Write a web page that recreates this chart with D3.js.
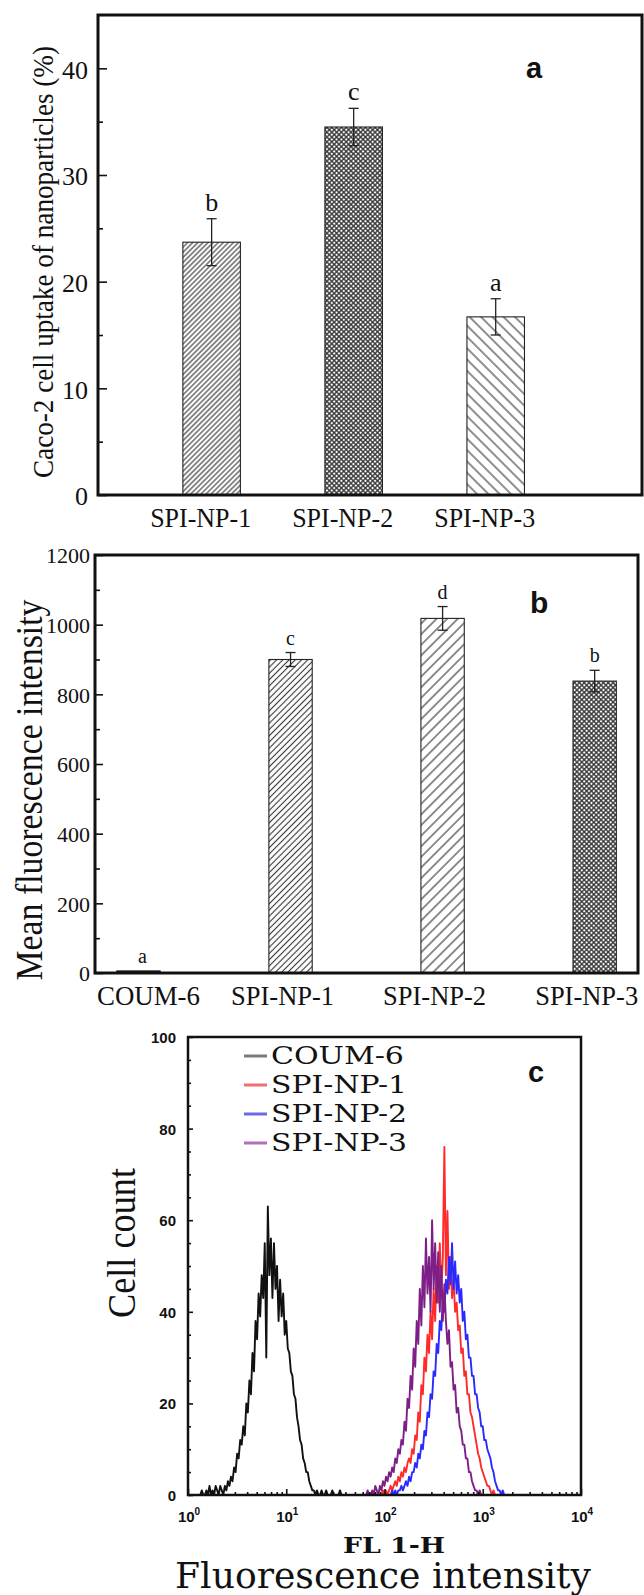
<!DOCTYPE html>
<html><head><meta charset="utf-8">
<script src="https://cdn.jsdelivr.net/npm/d3@7/dist/d3.min.js"></script>
<style>body{margin:0;background:#fff}svg{display:block}</style>
</head><body>
<svg id="chart" width="644" height="1595"></svg>
<script>
// ---------- Panel a data ----------
const catsA = ["SPI-NP-1", "SPI-NP-2", "SPI-NP-3"];
const valsA = [23.7, 34.5, 16.7];
const errA = [2.2, 1.75, 1.7];
const sigA = ["b", "c", "a"];
const ticksA = [0, 10, 20, 30, 40];
const minorA = [5, 15, 25, 35];

// ---------- Panel b data ----------
const catsB = ["COUM-6", "SPI-NP-1", "SPI-NP-2", "SPI-NP-3"];
const valsB = [6, 900, 1018, 838];
const errB = [0, 20, 34, 31];
const sigB = ["a", "c", "d", "b"];
const ticksB = [0, 200, 400, 600, 800, 1000, 1200];
const minorB = [100, 300, 500, 700, 900, 1100];

// ---------- Panel c data (flow cytometry histograms, 64 channels / decade) ----------
const seriesC = ["COUM-6", "SPI-NP-1", "SPI-NP-2", "SPI-NP-3"];
const startChC = [8, 126, 132, 116];
const countsCOUM = [0,1,0,0,1,0,2,0,1,0,2,1,0,2,1,0,2,1,3,2,4,3,6,5,9,8,12,11,15,13,20,18,25,22,31,27,38,34,44,39,48,43,55,30,63,48,56,43,55,45,50,38,47,39,44,35,38,32,31,27,26,22,21,17,15,12,11,8,7,5,5,3,2,1,1,0,1,0,0,1,0,0,1,0,0,0,1,0,0,0,0,1,0,0,0,0,0];
const countsNP1 = [0,1,0,1,0,1,2,1,2,3,2,4,3,5,4,6,5,7,8,7,10,9,13,12,18,16,24,22,30,27,35,31,40,34,45,38,50,42,55,44,52,76,48,62,45,52,43,47,40,42,36,37,31,32,26,27,22,22,18,17,15,13,11,9,8,6,5,4,3,2,2,1,0,1,0];
const countsNP2 = [0,1,0,1,0,1,1,2,1,2,3,2,4,3,5,5,7,6,9,8,11,10,14,13,18,17,22,21,27,26,33,31,38,36,43,40,47,44,52,46,55,45,51,44,48,42,45,38,40,34,35,30,30,26,26,22,22,19,18,15,15,12,12,10,9,8,6,5,3,2,1,1,0,1,0];
const countsNP3 = [0,1,0,0,1,0,2,1,0,2,1,3,2,4,3,5,4,6,5,8,7,10,9,12,11,16,14,21,19,26,23,32,28,38,33,45,37,50,41,56,44,52,40,60,45,55,42,53,40,50,38,46,38,33,36,28,29,23,24,18,19,15,14,11,11,8,8,5,5,3,2,1,1,0,1,0,0];
const countsC = [countsCOUM, countsNP1, countsNP2, countsNP3];
const ticksCy = [0, 20, 40, 60, 80, 100];
const decadesC = [1, 10, 100, 1000, 10000];

// ---------- styles ----------
const colorsC = ["#111111", "#ff2a2a", "#2a2aff", "#7d1f86"];
const legendColorsC = ["#7a7a7a", "#ef6f6f", "#6a6ae6", "#b26fb8"];
const serif = "'Liberation Serif','Times New Roman',serif";
const sans = "'Liberation Sans',Arial,sans-serif";
const wide = "'DejaVu Serif',serif";

const svg = d3.select("#chart");
const defs = svg.append("defs");
function hatch(id, sp, angle, sw, color) {
  const p = defs.append("pattern").attr("id", id).attr("patternUnits", "userSpaceOnUse")
    .attr("width", sp).attr("height", sp).attr("patternTransform", `rotate(${angle})`);
  p.append("rect").attr("width", sp).attr("height", sp).attr("fill", "#fff");
  p.append("line").attr("x1", sp / 2).attr("x2", sp / 2).attr("y1", -1).attr("y2", sp + 1)
    .attr("stroke", color).attr("stroke-width", sw);
}
function cross(id, sp, sw, color) {
  const p = defs.append("pattern").attr("id", id).attr("patternUnits", "userSpaceOnUse")
    .attr("width", sp).attr("height", sp).attr("patternTransform", "rotate(45)");
  p.append("rect").attr("width", sp).attr("height", sp).attr("fill", "#fff");
  p.append("line").attr("x1", sp / 2).attr("x2", sp / 2).attr("y1", -1).attr("y2", sp + 1)
    .attr("stroke", color).attr("stroke-width", sw);
  p.append("line").attr("y1", sp / 2).attr("y2", sp / 2).attr("x1", -1).attr("x2", sp + 1)
    .attr("stroke", color).attr("stroke-width", sw);
}
hatch("hA1", 3.6, 45, 1.1, "#333");
cross("cross", 3.4, 1.35, "#333");
hatch("hA3", 8, -45, 1.1, "#333");
hatch("hB1", 4.4, 45, 1.1, "#333");
hatch("hB2", 7.5, 45, 1.1, "#333");
const fillsA = ["url(#hA1)", "url(#cross)", "url(#hA3)"];
const fillsB = ["#111", "url(#hB1)", "url(#hB2)", "url(#cross)"];

function styleAxis(g, font, size, weight) {
  g.select(".domain").remove();
  g.selectAll("text").attr("font-family", font).attr("font-size", size)
    .attr("font-weight", weight || "normal").attr("fill", "#111");
  g.selectAll("line").attr("stroke", "#111").attr("stroke-width", 1.6);
}
function fitText(sel, len) {
  sel.attr("textLength", len).attr("lengthAdjust", "spacingAndGlyphs");
}

// ================= Panel a =================
(function () {
  const L = 98, R = 642, T = 15, B = 495;
  const x = d3.scaleLinear().domain([0.2, 4.03]).range([L, R]);
  const y = d3.scaleLinear().domain([0, 45]).range([B, T]);
  const bw = x(1.405) - x(1);
  const g = svg.append("g");
  const data = catsA.map((c, i) => ({ c, i, v: valsA[i], e: errA[i], s: sigA[i] }));
  g.selectAll("rect.bar").data(data).join("rect").attr("class", "bar")
    .attr("x", d => x(d.i + 1) - bw / 2).attr("width", bw)
    .attr("y", d => y(d.v)).attr("height", d => y(0) - y(d.v))
    .attr("fill", d => fillsA[d.i]).attr("stroke", "#222").attr("stroke-width", 1.1);
  const eb = g.selectAll("g.err").data(data).join("g").attr("class", "err")
    .attr("stroke", "#222").attr("stroke-width", 1.3);
  eb.append("line").attr("x1", d => x(d.i + 1)).attr("x2", d => x(d.i + 1))
    .attr("y1", d => y(d.v + d.e)).attr("y2", d => y(d.v - d.e));
  eb.append("line").attr("x1", d => x(d.i + 1) - 5).attr("x2", d => x(d.i + 1) + 5)
    .attr("y1", d => y(d.v + d.e)).attr("y2", d => y(d.v + d.e));
  eb.append("line").attr("x1", d => x(d.i + 1) - 5).attr("x2", d => x(d.i + 1) + 5)
    .attr("y1", d => y(d.v - d.e)).attr("y2", d => y(d.v - d.e));
  g.selectAll("text.sig").data(data).join("text").attr("class", "sig")
    .attr("x", d => x(d.i + 1)).attr("y", d => y(d.v + d.e) - 8)
    .attr("text-anchor", "middle").attr("font-family", serif).attr("font-size", 26)
    .attr("fill", "#111").text(d => d.s);
  const ay = g.append("g").attr("transform", `translate(${L},0)`)
    .call(d3.axisLeft(y).tickValues(ticksA).tickSize(-9).tickPadding(10));
  styleAxis(ay, serif, 26);
  ay.selectAll("text").attr("dy", "0.38em");
  const aym = g.append("g").attr("transform", `translate(${L},0)`)
    .call(d3.axisLeft(y).tickValues(minorA).tickSize(-5).tickFormat(""));
  styleAxis(aym);
  g.append("rect").attr("x", L).attr("y", T).attr("width", R - L).attr("height", B - T)
    .attr("fill", "none").attr("stroke", "#111").attr("stroke-width", 3);
  const cat = g.selectAll("text.cat").data(data).join("text").attr("class", "cat")
    .attr("x", d => x(d.i + 1) - 11).attr("y", 527).attr("text-anchor", "middle")
    .attr("font-family", serif).attr("font-size", 28).attr("fill", "#111").text(d => d.c);
  fitText(cat, 101);
  const yl = g.append("text").attr("transform", `translate(53,262) rotate(-90)`)
    .attr("text-anchor", "middle").attr("font-family", serif).attr("font-size", 30)
    .attr("fill", "#111").text("Caco-2 cell uptake of nanoparticles (%)");
  fitText(yl, 432);
  g.append("text").attr("x", 526).attr("y", 78).attr("font-family", sans)
    .attr("font-weight", "bold").attr("font-size", 29).attr("fill", "#111").text("a");
})();

// ================= Panel b =================
(function () {
  const L = 95, R = 638, T = 555, B = 973;
  const x = d3.scaleLinear().domain([0.714, 4.285]).range([L, R]);
  const y = d3.scaleLinear().domain([0, 1200]).range([B, T]);
  const bw = x(1.285) - x(1);
  const g = svg.append("g");
  const data = catsB.map((c, i) => ({ c, i, v: valsB[i], e: errB[i], s: sigB[i] }));
  g.selectAll("rect.bar").data(data).join("rect").attr("class", "bar")
    .attr("x", d => x(d.i + 1) - bw / 2).attr("width", bw)
    .attr("y", d => y(d.v)).attr("height", d => y(0) - y(d.v))
    .attr("fill", d => fillsB[d.i]).attr("stroke", "#222").attr("stroke-width", 1.1);
  const eb = g.selectAll("g.err").data(data.filter(d => d.e > 0)).join("g").attr("class", "err")
    .attr("stroke", "#222").attr("stroke-width", 1.3);
  eb.append("line").attr("x1", d => x(d.i + 1)).attr("x2", d => x(d.i + 1))
    .attr("y1", d => y(d.v + d.e)).attr("y2", d => y(d.v - d.e));
  eb.append("line").attr("x1", d => x(d.i + 1) - 5).attr("x2", d => x(d.i + 1) + 5)
    .attr("y1", d => y(d.v + d.e)).attr("y2", d => y(d.v + d.e));
  eb.append("line").attr("x1", d => x(d.i + 1) - 5).attr("x2", d => x(d.i + 1) + 5)
    .attr("y1", d => y(d.v - d.e)).attr("y2", d => y(d.v - d.e));
  g.selectAll("text.sig").data(data).join("text").attr("class", "sig")
    .attr("x", d => x(d.i + 1) + (d.i === 0 ? 4 : 0)).attr("y", d => y(d.v + d.e) - 8)
    .attr("text-anchor", "middle").attr("font-family", serif).attr("font-size", 20)
    .attr("fill", "#111").text(d => d.s);
  const ay = g.append("g").attr("transform", `translate(${L},0)`)
    .call(d3.axisLeft(y).tickValues(ticksB).tickSize(-8).tickPadding(5).tickFormat(d3.format("d")));
  styleAxis(ay, serif, 22);
  ay.selectAll("text").attr("dy", "0.36em");
  const aym = g.append("g").attr("transform", `translate(${L},0)`)
    .call(d3.axisLeft(y).tickValues(minorB).tickSize(-5).tickFormat(""));
  styleAxis(aym);
  g.append("rect").attr("x", L).attr("y", T).attr("width", R - L).attr("height", B - T)
    .attr("fill", "none").attr("stroke", "#111").attr("stroke-width", 3);
  const cat = g.selectAll("text.cat").data(data).join("text").attr("class", "cat")
    .attr("x", d => x(d.i + 1) + (d.i === 0 ? 10 : -8)).attr("y", 1005).attr("text-anchor", "middle")
    .attr("font-family", serif).attr("font-size", 27).attr("fill", "#111").text(d => d.c);
  fitText(cat, 103);
  const yl = g.append("text").attr("transform", `translate(42,790) rotate(-90)`)
    .attr("text-anchor", "middle").attr("font-family", serif).attr("font-size", 37)
    .attr("fill", "#111").text("Mean fluorescence intensity");
  fitText(yl, 381);
  g.append("text").attr("x", 530).attr("y", 613).attr("font-family", sans)
    .attr("font-weight", "bold").attr("font-size", 30).attr("fill", "#111").text("b");
})();

// ================= Panel c =================
(function () {
  const L = 188, R = 581, T = 1037, B = 1495;
  const x = d3.scaleLog().domain([1, 10000]).range([L, R]);
  const y = d3.scaleLinear().domain([0, 100]).range([B, T]);
  const g = svg.append("g");
  const clip = defs.append("clipPath").attr("id", "clipC");
  clip.append("rect").attr("x", L).attr("y", T).attr("width", R - L).attr("height", B - T);
  const line = d3.line().x(d => x(d.fl)).y(d => y(d.n));
  const series = seriesC.map((name, k) => ({
    name, k,
    pts: countsC[k].map((n, j) => ({ fl: Math.pow(10, (startChC[k] + j) / 64), n }))
  }));
  g.append("g").attr("clip-path", "url(#clipC)").selectAll("path").data(series).join("path")
    .attr("d", d => line(d.pts)).attr("fill", "none")
    .attr("stroke", d => colorsC[d.k]).attr("stroke-width", 1.9).attr("stroke-linejoin", "round");
  const ay = g.append("g").attr("transform", `translate(${L},0)`)
    .call(d3.axisLeft(y).tickValues(ticksCy).tickSize(-5).tickPadding(12));
  styleAxis(ay, sans, 15, "bold");
  ay.selectAll("text").attr("dy", "0.36em");
  const minorCy = d3.range(0, 101, 5).filter(v => v % 20 !== 0);
  const aym = g.append("g").attr("transform", `translate(${L},0)`)
    .call(d3.axisLeft(y).tickValues(minorCy).tickSize(-3).tickFormat(""));
  styleAxis(aym);
  const ax = g.append("g").attr("transform", `translate(0,${B})`)
    .call(d3.axisBottom(x).tickValues(decadesC).tickSize(-6).tickFormat(""));
  styleAxis(ax);
  const minorCx = [];
  decadesC.slice(0, -1).forEach(dv => [2, 3, 4, 5, 6, 7, 8, 9].forEach(m => minorCx.push(dv * m)));
  const axm = g.append("g").attr("transform", `translate(0,${B})`)
    .call(d3.axisBottom(x).tickValues(minorCx).tickSize(-3).tickFormat(""));
  styleAxis(axm);
  const xl = g.selectAll("text.dec").data(decadesC).join("text").attr("class", "dec")
    .attr("x", d => x(d) + 1).attr("y", 1522).attr("text-anchor", "middle")
    .attr("font-family", sans).attr("font-weight", "bold").attr("font-size", 15).attr("fill", "#111");
  xl.append("tspan").text("10");
  xl.append("tspan").attr("dy", -7).attr("font-size", 10).text(d => Math.round(Math.log10(d)));
  g.append("rect").attr("x", L).attr("y", T).attr("width", R - L).attr("height", B - T)
    .attr("fill", "none").attr("stroke", "#111").attr("stroke-width", 2.5);
  const lg = g.selectAll("g.leg").data(seriesC).join("g").attr("class", "leg")
    .attr("transform", (d, i) => `translate(0,${1064 + i * 29})`);
  lg.append("line").attr("x1", 244).attr("x2", 267).attr("y1", -8).attr("y2", -8)
    .attr("stroke", (d, i) => legendColorsC[i]).attr("stroke-width", 3);
  lg.append("text").attr("x", 271).attr("y", 0).attr("font-family", wide)
    .attr("font-size", 25).attr("textLength", (d, i) => i === 0 ? 133 : 136)
    .attr("lengthAdjust", "spacingAndGlyphs").attr("fill", "#111").text(d => d);
  g.append("text").attr("x", 528).attr("y", 1082).attr("font-family", sans)
    .attr("font-weight", "bold").attr("font-size", 29).attr("fill", "#111").text("c");
  const cc = g.append("text").attr("transform", `translate(135,1243) rotate(-90)`)
    .attr("text-anchor", "middle").attr("font-family", serif).attr("font-size", 40)
    .attr("fill", "#111").text("Cell count");
  fitText(cc, 150);
  const fl = g.append("text").attr("x", 343).attr("y", 1553).attr("font-family", wide)
    .attr("font-size", 23).attr("font-weight", "bold").attr("fill", "#111").text("FL 1-H");
  fitText(fl, 102);
  const fi = g.append("text").attr("x", 175).attr("y", 1588).attr("font-family", wide)
    .attr("font-size", 35).attr("fill", "#111").text("Fluorescence intensity");
  fitText(fi, 416);
})();
</script>
</body></html>
